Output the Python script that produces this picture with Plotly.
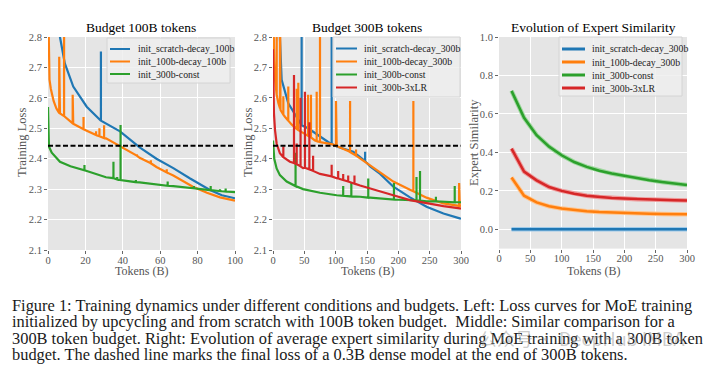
import plotly.graph_objects as go

# ---------------- data ----------------
# Panel 1: Budget 100B tokens
p1_scratch_x = [5.0, 6.4, 9, 13.5, 20.7, 27.8, 38.5, 49, 58, 67, 76, 86.6, 93, 100]
p1_scratch_y = [2.90, 2.80, 2.713, 2.637, 2.571, 2.527, 2.49, 2.437, 2.40, 2.369, 2.335, 2.297, 2.28, 2.27]
p1_scratch_spk_x = [28.3]
p1_scratch_spk_lo = [2.525]
p1_scratch_spk_hi = [2.752]

p1_up100_x = [0, 0.3, 0.8, 1.5, 3, 4.5, 6.4, 13.5, 19, 31, 38.8, 49, 58, 67, 72, 77.5, 85, 92, 100]
p1_up100_y = [2.95, 2.80, 2.66, 2.63, 2.59, 2.565, 2.549, 2.515, 2.497, 2.467, 2.44, 2.403, 2.373, 2.345, 2.328, 2.308, 2.288, 2.273, 2.262]
p1_up100_spk_x = [6.0, 8.6, 13.2, 19.0, 25.7, 27.5, 30.0, 47.5, 55, 63.5]
p1_up100_spk_lo = [2.55, 2.54, 2.516, 2.497, 2.478, 2.474, 2.468, 2.41, 2.385, 2.355]
p1_up100_spk_hi = [2.735, 2.95, 2.61, 2.537, 2.49, 2.50, 2.51, 2.415, 2.395, 2.365]

p1_const_x = [0, 0.5, 2, 6.4, 12, 19, 31, 38, 49, 58, 67, 77.5, 86.6, 93, 100]
p1_const_y = [2.57, 2.44, 2.42, 2.39, 2.375, 2.363, 2.339, 2.33, 2.322, 2.316, 2.31, 2.303, 2.297, 2.293, 2.29]
p1_const_spk_x = [19.5, 35, 37, 38.8, 47, 64, 78, 87, 92, 95]
p1_const_spk_lo = [2.362, 2.336, 2.332, 2.33, 2.323, 2.311, 2.303, 2.297, 2.294, 2.292]
p1_const_spk_hi = [2.379, 2.39, 2.34, 2.511, 2.33, 2.325, 2.31, 2.31, 2.30, 2.302]

# Panel 2: Budget 300B tokens
p2_scratch_x = [10, 13.8, 24.4, 40.4, 56, 75, 88, 101.6, 128, 139, 155, 171, 192, 218.6, 245, 272, 298, 300]
p2_scratch_y = [2.85, 2.659, 2.582, 2.527, 2.50, 2.472, 2.455, 2.44, 2.423, 2.405, 2.375, 2.35, 2.308, 2.273, 2.242, 2.22, 2.204, 2.203]
p2_scratch_spk_x = [45.7, 93.6, 147]
p2_scratch_spk_lo = [2.51, 2.448, 2.392]
p2_scratch_spk_hi = [2.95, 2.95, 2.423]

p2_up100_x = [0, 1, 2, 3.2, 5, 8.5, 12, 19, 30, 40.4, 48, 67, 93.6, 101.6, 120, 136, 155, 175, 192, 218.6, 245, 272, 298, 300]
p2_up100_y = [2.95, 2.80, 2.72, 2.66, 2.62, 2.583, 2.56, 2.538, 2.512, 2.494, 2.485, 2.46, 2.448, 2.442, 2.425, 2.405, 2.378, 2.35, 2.325, 2.298, 2.272, 2.253, 2.245, 2.244]
p2_up100_spk_x = [5.9, 11.2, 16.5, 24.4, 37.8, 40.4, 56, 60.6, 69.7, 75, 100.5, 123, 132.5, 224, 297]
p2_up100_spk_lo = [2.61, 2.565, 2.545, 2.525, 2.498, 2.494, 2.475, 2.47, 2.458, 2.455, 2.443, 2.422, 2.41, 2.293, 2.245]
p2_up100_spk_hi = [2.95, 2.95, 2.605, 2.637, 2.63, 2.65, 2.61, 2.61, 2.62, 2.95, 2.59, 2.59, 2.43, 2.59, 2.32]

p2_const_x = [0, 0.5, 2, 5.8, 11, 21.8, 48, 75, 101.6, 139, 155, 192, 245, 298, 300]
p2_const_y = [2.46, 2.434, 2.40, 2.368, 2.346, 2.325, 2.30, 2.288, 2.28, 2.275, 2.272, 2.266, 2.26, 2.257, 2.257]
p2_const_spk_x = [36, 112, 125, 152, 193, 229, 234.6, 260, 290]
p2_const_spk_lo = [2.31, 2.278, 2.276, 2.272, 2.266, 2.263, 2.262, 2.26, 2.257]
p2_const_spk_hi = [2.42, 2.31, 2.32, 2.335, 2.32, 2.34, 2.36, 2.275, 2.31]

p2_3xlr_x = [0, 0.5, 1.5, 3.2, 5.8, 11, 27, 48, 75, 101.6, 139, 155, 192, 218.6, 245, 272, 298, 300]
p2_3xlr_y = [2.76, 2.62, 2.55, 2.494, 2.45, 2.418, 2.39, 2.369, 2.35, 2.336, 2.312, 2.303, 2.28, 2.264, 2.253, 2.244, 2.237, 2.236]
p2_3xlr_spk_x = [16.5, 33.5, 37.8, 44, 51, 58, 64, 93.6, 104, 112, 120, 130]
p2_3xlr_spk_lo = [2.405, 2.386, 2.382, 2.375, 2.37, 2.365, 2.36, 2.342, 2.335, 2.33, 2.325, 2.318]
p2_3xlr_spk_hi = [2.44, 2.675, 2.45, 2.60, 2.62, 2.52, 2.41, 2.38, 2.36, 2.35, 2.345, 2.345]

dense_final_loss = 2.443

# Panel 3: Evolution of Expert Similarity
sim_t = [20, 40, 60, 80, 100, 120, 140, 160, 180, 200, 220, 240, 260, 280, 300]
sim_scratch = [0, 0, 0, 0, 0, 0, 0, 0, 0, 0, 0, 0, 0, 0, 0]
sim_up100 = [0.27, 0.175, 0.14, 0.12, 0.108, 0.10, 0.094, 0.09, 0.087, 0.085, 0.083, 0.081, 0.08, 0.079, 0.078]
sim_const = [0.72, 0.58, 0.49, 0.43, 0.385, 0.35, 0.325, 0.305, 0.29, 0.278, 0.266, 0.255, 0.246, 0.238, 0.23]
sim_3xlr = [0.42, 0.30, 0.255, 0.22, 0.20, 0.185, 0.175, 0.168, 0.163, 0.16, 0.157, 0.155, 0.153, 0.151, 0.15]

names_p1 = ["init_scratch-decay_100b", "init_100b-decay_100b", "init_300b-const"]
names_p2 = ["init_scratch-decay_300b", "init_100b-decay_300b", "init_300b-const", "init_300b-3xLR"]
names_p3 = ["init_scratch-decay_300b", "init_100b-decay_300b", "init_300b-const", "init_300b-3xLR"]

titles = ["Budget 100B tokens", "Budget 300B tokens", "Evolution of Expert Similarity"]
caption_lines = [
    "Figure 1: Training dynamics under different conditions and budgets. Left: Loss curves for MoE training",
    "initialized by upcycling and from scratch with 100B token budget.  Middle: Similar comparison for a",
    "300B token budget. Right: Evolution of average expert similarity during MoE training with a 300B token",
    "budget. The dashed line marks the final loss of a 0.3B dense model at the end of 300B tokens.",
]
watermark = "公众号 · DeepHub IMBA"

# ---------------- styling ----------------
BLUE, ORANGE, GREEN, RED = "#1f77b4", "#ff7f0e", "#2ca02c", "#d62728"
COLORS = [BLUE, ORANGE, GREEN, RED]
LIGHT = {BLUE: "#9ecae9", ORANGE: "#ffc58f", GREEN: "#9fd89f", RED: "#ee9a9a"}
SERIF = "Liberation Serif"
W, H = 720, 374


def px(x):
    return x / W


def py(y):
    return 1 - y / H


def merge(bx, by, sx, slo, shi):
    pts = [(x, 0, y) for x, y in zip(bx, by)]
    for x, lo, hi in zip(sx, slo, shi):
        pts += [(x, 1, lo), (x, 2, hi), (x, 3, lo)]
    pts.sort(key=lambda p: (p[0], p[1]))
    return [p[0] for p in pts], [p[2] for p in pts]


fig = go.Figure()


def loss_trace(bx, by, sx, slo, shi, color, name, xa, ya):
    x, y = merge(bx, by, sx, slo, shi)
    fig.add_trace(go.Scatter(x=x, y=y, mode="lines", name=name, showlegend=False,
                             line=dict(color=color, width=2.2), xaxis=xa, yaxis=ya))


loss_trace(p1_scratch_x, p1_scratch_y, p1_scratch_spk_x, p1_scratch_spk_lo, p1_scratch_spk_hi,
           BLUE, names_p1[0], "x", "y")
loss_trace(p1_up100_x, p1_up100_y, p1_up100_spk_x, p1_up100_spk_lo, p1_up100_spk_hi,
           ORANGE, names_p1[1], "x", "y")
loss_trace(p1_const_x, p1_const_y, p1_const_spk_x, p1_const_spk_lo, p1_const_spk_hi,
           GREEN, names_p1[2], "x", "y")

loss_trace(p2_scratch_x, p2_scratch_y, p2_scratch_spk_x, p2_scratch_spk_lo, p2_scratch_spk_hi,
           BLUE, names_p2[0], "x2", "y2")
loss_trace(p2_up100_x, p2_up100_y, p2_up100_spk_x, p2_up100_spk_lo, p2_up100_spk_hi,
           ORANGE, names_p2[1], "x2", "y2")
loss_trace(p2_const_x, p2_const_y, p2_const_spk_x, p2_const_spk_lo, p2_const_spk_hi,
           GREEN, names_p2[2], "x2", "y2")
loss_trace(p2_3xlr_x, p2_3xlr_y, p2_3xlr_spk_x, p2_3xlr_spk_lo, p2_3xlr_spk_hi,
           RED, names_p2[3], "x2", "y2")

for xa, ya, xmax in (("x", "y", 100), ("x2", "y2", 300)):
    fig.add_trace(go.Scatter(x=[0, xmax], y=[dense_final_loss, dense_final_loss], mode="lines",
                             line=dict(color="black", width=2, dash="5px,2.5px"),
                             xaxis=xa, yaxis=ya, showlegend=False, hoverinfo="skip"))

for vals, color, name in zip((sim_scratch, sim_up100, sim_const, sim_3xlr), COLORS, names_p3):
    fig.add_trace(go.Scatter(x=sim_t, y=vals, mode="lines", line=dict(color=LIGHT[color], width=4.5),
                             xaxis="x3", yaxis="y3", showlegend=False, hoverinfo="skip"))
    fig.add_trace(go.Scatter(x=sim_t, y=vals, mode="lines", name=name, showlegend=False,
                             line=dict(color=color, width=2.5), xaxis="x3", yaxis="y3"))

TOP = py(37)
BOT = py(250)
BOT3 = py(248.6)
tickfont = dict(family=SERIF, size=10.5, color="#555555")
common = dict(showgrid=True, gridcolor="white", gridwidth=1, zeroline=False, showline=False,
              ticks="outside", ticklen=3, tickcolor="#666666", tickwidth=1, tickfont=tickfont,
              automargin=False)
xcommon = dict(common, ticklabelstandoff=-3)

fig.update_layout(
    width=W, height=H, margin=dict(l=0, r=0, t=0, b=0, autoexpand=False),
    paper_bgcolor="white", plot_bgcolor="#e5e5e5",
    showlegend=False,
    xaxis=dict(domain=[px(48), px(235)], range=[0, 100], dtick=20, anchor="y", **xcommon),
    yaxis=dict(domain=[BOT, TOP], range=[2.1, 2.8], dtick=0.1, tickformat=".1f", anchor="x", **common),
    xaxis2=dict(domain=[px(273), px(461)], range=[0, 300], dtick=50, anchor="y2", **xcommon),
    yaxis2=dict(domain=[BOT, TOP], range=[2.1, 2.8], dtick=0.1, tickformat=".1f", anchor="x2", **common),
    xaxis3=dict(domain=[px(499), px(687)], range=[0, 300], dtick=50, anchor="y3", **xcommon),
    yaxis3=dict(domain=[BOT3, TOP], range=[-0.1, 1.0], tickvals=[0, 0.2, 0.4, 0.6, 0.8, 1.0],
                tickformat=".1f", anchor="x3", **common),
)

shapes = []
ann = []

# hand-built legends (compact, matplotlib-like)
legend_specs = [
    ((107, 38, 230, 83), 110, 130, 136, [49, 61.5, 74], names_p1, 2),
    ((333, 37, 460, 97), 336, 357, 362, [48.5, 61.5, 74.5, 87.5], names_p2, 2),
    ((559, 37, 682, 96), 562, 585, 590, [49, 62, 75, 88], names_p3, 3),
]
for (bx0, by0, bx1, by1), lx0, lx1, tx, rows, names, lw in legend_specs:
    shapes.append(dict(type="rect", xref="paper", yref="paper", x0=px(bx0), x1=px(bx1),
                       y0=py(by1), y1=py(by0), fillcolor="rgba(238,238,238,0.85)",
                       line=dict(color="#d4d4d4", width=1), layer="above"))
    for ry, name, color in zip(rows, names, COLORS):
        shapes.append(dict(type="line", xref="paper", yref="paper", x0=px(lx0), x1=px(lx1),
                           y0=py(ry), y1=py(ry), line=dict(color=color, width=lw), layer="above"))
        ann.append(dict(x=px(tx), y=py(ry), xref="paper", yref="paper", text=name, showarrow=False,
                        font=dict(family=SERIF, size=9.8, color="#222222"),
                        xanchor="left", yanchor="middle"))

for cx, txt in zip((141, 367, 593), titles):
    ann.append(dict(x=px(cx), y=py(28), xref="paper", yref="paper", text=txt, showarrow=False,
                    font=dict(family=SERIF, size=13.5, color="black"), xanchor="center", yanchor="middle"))
for cx in (141, 367, 593):
    ann.append(dict(x=px(cx), y=py(270.5), xref="paper", yref="paper", text="Tokens (B)", showarrow=False,
                    font=dict(family=SERIF, size=12, color="#555555"), xanchor="center", yanchor="middle"))
for cx, txt in ((22, "Training Loss"), (248, "Training Loss"), (474, "Expert Similarity")):
    ann.append(dict(x=px(cx), y=py(143), xref="paper", yref="paper", text=txt, showarrow=False,
                    textangle=-90, font=dict(family=SERIF, size=12.5, color="#555555"),
                    xanchor="center", yanchor="middle"))
for i, line in enumerate(caption_lines):
    ann.append(dict(x=px(10), y=py(305 + 16.6 * i), xref="paper", yref="paper", text=line,
                    showarrow=False, font=dict(family=SERIF, size=16.4, color="#1a1a1a"),
                    xanchor="left", yanchor="middle"))
ann.append(dict(x=px(477), y=py(338), xref="paper", yref="paper", text=watermark,
                showarrow=False, font=dict(family="Noto Sans CJK SC", size=18, color="rgba(140,140,140,0.45)"),
                xanchor="left", yanchor="middle"))
fig.update_layout(annotations=ann, shapes=shapes)

fig.write_html("out.html", config={"displayModeBar": False},
               post_script="document.body.style.margin='0';document.body.style.overflow='hidden';")
